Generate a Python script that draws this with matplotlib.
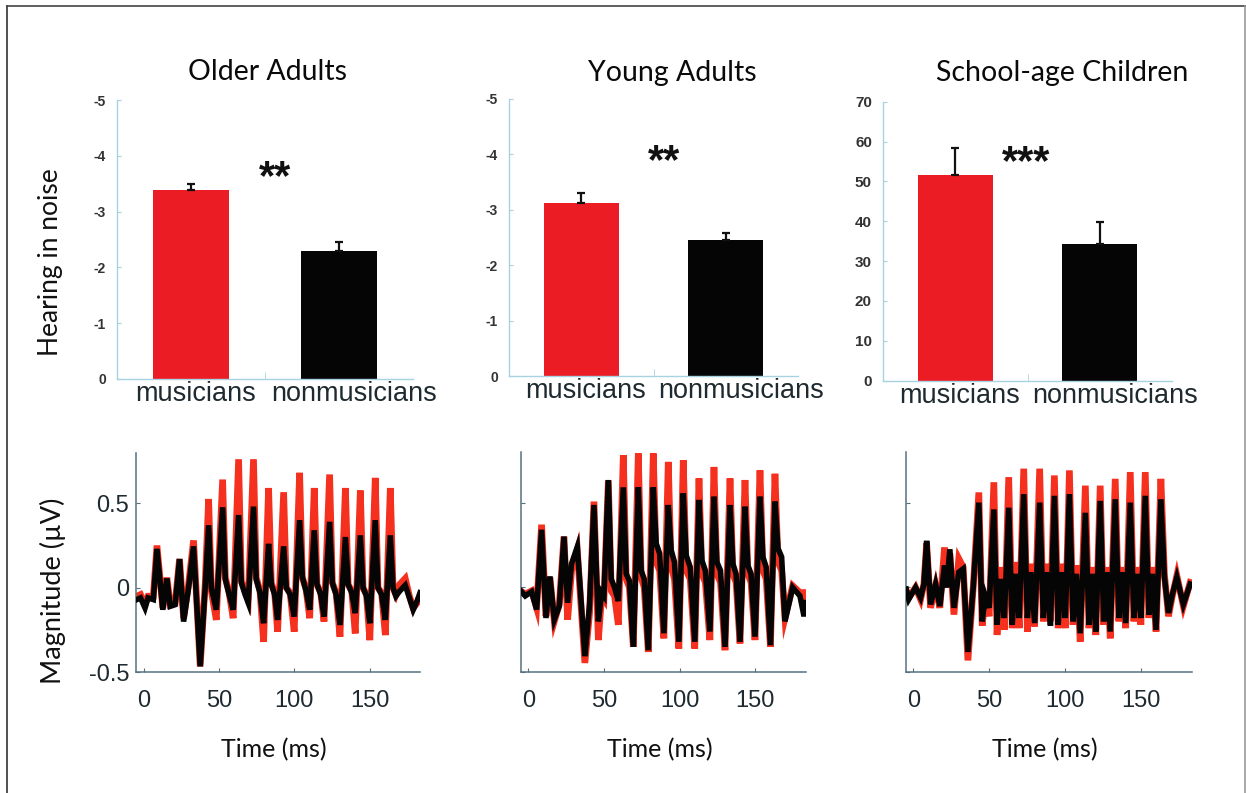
import matplotlib
matplotlib.use("Agg")
import matplotlib.pyplot as plt
from matplotlib.lines import Line2D

plt.rcParams['axes.unicode_minus'] = False

# ---- bar data (hearing in noise) ----
groups = ["musicians", "nonmusicians"]
older_vals = [-3.39, -2.29]
older_err = [0.10, 0.16]
young_vals = [-3.13, -2.46]
young_err = [0.18, 0.13]
child_vals = [51.6, 34.3]
child_err = [6.9, 5.6]

# ---- waveform data (ms, µV); red = musicians, black = nonmusicians ----
t_older = [-4.5, -2, 1, 3, 6.5, 8.9, 12.8, 15.5, 17.7, 21, 23.9, 26.6, 29.9, 33.2, 37.6, 40.9,
           43.2, 45.0, 48.3,
           52.5, 54.3, 56.8, 59.5,
           63.1, 64.9, 67.4, 69.5,
           73.0, 74.8, 77.3, 79.7,
           83.0, 84.8, 87.0, 89.0,
           93.0, 94.8, 97.3, 100.0,
           103.6, 105.4, 107.9, 110.3,
           113.3, 115.1, 117.6, 119.8,
           123.5, 125.3, 127.8, 130.4,
           134.0, 135.8, 138.2, 140.5,
           143.9, 145.7, 148.0, 150.2,
           153.8, 155.6, 158.0, 160.5,
           163.8, 165.6, 167.5, 170, 173.7, 176.5, 179, 181.5, 183.5]
nonmus_older = [-0.07, -0.06, -0.12, -0.06, -0.07, 0.23, -0.13, 0.055, -0.11, -0.10, 0.17, -0.20,
                0.0, 0.245, -0.465, 0.0,
                0.37, 0.0, -0.13,
                0.476, 0.05, -0.04, -0.13,
                0.43, 0.03, -0.04, -0.09,
                0.48, 0.05, -0.03, -0.21,
                0.26, 0.02, -0.04, -0.19,
                0.245, 0.0, -0.04, -0.17,
                0.40, 0.065, -0.02, -0.13,
                0.34, 0.02, -0.04, -0.17,
                0.39, 0.03, -0.04, -0.22,
                0.30, 0.02, -0.03, -0.15,
                0.31, 0.0, -0.05, -0.21,
                0.40, 0.0, -0.04, -0.19,
                0.31, 0.0, -0.05, -0.02, 0.015, -0.06, -0.13, -0.08, -0.03]
mus_older = [-0.05, -0.04, -0.10, -0.05, -0.05, 0.25, -0.12, 0.06, -0.10, -0.09, 0.17, -0.18,
             0.02, 0.28, -0.465, 0.02,
             0.525, -0.02, -0.19,
             0.64, 0.06, -0.03, -0.18,
             0.76, 0.04, -0.02, -0.07,
             0.76, 0.06, -0.02, -0.32,
             0.59, 0.03, -0.03, -0.26,
             0.565, 0.0, -0.03, -0.26,
             0.68, 0.06, -0.01, -0.18,
             0.59, 0.02, -0.03, -0.20,
             0.67, 0.03, -0.03, -0.29,
             0.59, 0.02, -0.02, -0.27,
             0.575, 0.0, -0.04, -0.31,
             0.65, 0.0, -0.03, -0.28,
             0.59, 0.0, -0.04, 0.02, 0.055, -0.05, -0.12, -0.09, -0.05]

t_young = [-5, -2, 2.2, 5.5, 8.8, 11.7, 14.3, 17.2, 20.5, 23.6, 26, 28.6, 32.4, 37.4, 40.5,
           43.4, 46.3, 48.5, 50,
           52.9, 54.8, 57, 59.5,
           62.8, 64.7, 66.8, 69.4,
           72.7, 74.6, 76.6, 79.3,
           82.6, 84.5, 86.8, 89.6,
           92.5, 94.4, 96.6, 99.5,
           102.4, 104.3, 107, 110,
           112.8, 114.7, 117, 120,
           122.7, 124.6, 127, 130,
           133.3, 135.2, 137.3, 139.9,
           143.2, 145.1, 147.2, 149.8,
           153.1, 155, 157.2, 160,
           163, 165, 167.4, 169.6, 174.7, 179.5, 182.2, 183.5]
nonmus_young = [-0.02, -0.05, -0.025, -0.13, 0.34, -0.18, 0.065, -0.19, -0.11, 0.30, -0.09, 0.14,
                0.24, -0.405, -0.10, 0.486, -0.20, -0.03, -0.05,
                0.633, 0.05, 0.0, -0.08,
                0.59, 0.08, 0.04, -0.35,
                0.59, 0.10, 0.05, -0.37,
                0.59, 0.26, 0.20, -0.27,
                0.486, 0.22, 0.15, -0.32,
                0.555, 0.19, 0.12, -0.32,
                0.516, 0.16, 0.10, -0.26,
                0.535, 0.15, 0.10, -0.35,
                0.486, 0.14, 0.08, -0.32,
                0.476, 0.13, 0.08, -0.29,
                0.535, 0.18, 0.12, -0.34,
                0.506, 0.23, 0.18, -0.20, 0.0, -0.05, -0.17, -0.09]
mus_young = [-0.02, -0.04, -0.02, -0.12, 0.37, -0.17, 0.06, -0.20, -0.10, 0.30, -0.19, 0.10,
             0.22, -0.445, -0.15, 0.506, -0.31, -0.05, -0.07,
             0.63, -0.02, -0.05, -0.22,
             0.78, 0.05, 0.0, -0.35,
             0.79, 0.06, 0.0, -0.38,
             0.79, 0.15, 0.10, -0.30,
             0.74, 0.12, 0.05, -0.36,
             0.75, 0.10, 0.05, -0.36,
             0.643, 0.08, 0.03, -0.31,
             0.71, 0.08, 0.03, -0.37,
             0.643, 0.08, 0.03, -0.33,
             0.633, 0.08, 0.03, -0.31,
             0.69, 0.10, 0.05, -0.35,
             0.67, 0.15, 0.10, -0.18, 0.01, -0.03, -0.03, -0.08]

t_child = [-4.6, -3, 1.5, 4.8, 7, 8.8, 11.4, 14.7, 17.5, 20.6, 22, 24.1, 26.8, 30, 32.9, 36, 39.5,
           43.2, 45.4, 47.5, 50, 53.1, 55.2, 57.5, 60, 62.9, 65.2, 67.5, 69.8, 72.8, 75.2, 77.5,
           80, 83.3, 85.7, 88, 90.4, 93, 95.5, 97.8, 100.2, 102.9, 105.3, 107.5, 110, 113.4,
           115.8, 118, 120.3, 123.2, 125.5, 127.5, 129.8, 133.1, 135.5, 137.5, 140, 143, 145.4,
           147.5, 150, 152.9, 155.3, 157.5, 160, 163.2, 165.5, 168.2, 170.5, 173.7, 178, 182.5]
mus_child = [-0.02, -0.06, 0.0, -0.07, 0.02, 0.26, -0.12, 0.01, -0.12, 0.235, 0.02, 0.20, -0.16,
             0.17, 0.12, -0.43, 0.0, 0.56, -0.225, -0.05, -0.17, 0.62, -0.28, 0.12, -0.25, 0.65,
             -0.24, 0.15, -0.24, 0.70, -0.26, 0.14, -0.23, 0.70, -0.20, 0.14, -0.20, 0.66, -0.24,
             0.14, -0.24, 0.69, -0.22, 0.13, -0.32, 0.60, -0.24, 0.12, -0.28, 0.60, -0.22, 0.12,
             -0.30, 0.64, -0.20, 0.12, -0.24, 0.68, -0.20, 0.12, -0.22, 0.68, -0.18, 0.12, -0.26,
             0.64, 0.08, -0.17, -0.06, 0.07, -0.11, 0.03]
nonmus_child = [-0.01, -0.07, 0.0, -0.06, 0.02, 0.275, -0.10, 0.02, -0.11, 0.13, 0.0, 0.225, -0.12,
                0.09, 0.11, -0.38, 0.0, 0.50, -0.20, -0.05, -0.12, 0.46, -0.22, 0.05, -0.18, 0.47,
                -0.22, 0.08, -0.18, 0.55, -0.18, 0.09, -0.21, 0.50, -0.18, 0.09, -0.225, 0.54,
                -0.22, 0.09, -0.18, 0.55, -0.20, 0.08, -0.27, 0.44, -0.22, 0.08, -0.26, 0.51,
                -0.20, 0.09, -0.26, 0.52, -0.18, 0.09, -0.21, 0.50, -0.18, 0.08, -0.18, 0.54,
                -0.16, 0.08, -0.25, 0.52, 0.06, -0.15, -0.05, 0.06, -0.10, 0.02]

titles = ["Older Adults", "Young Adults", "School-age Children"]
stars = ["**", "**", "***"]

W, H = 1246, 793
RED = "#ec1c24"
BAR_AXIS = "#a8d2e2"
WAVE_AXIS = "#56717e"
TXT = "#1e2a30"


def rect(x0, y0, x1, y1):
    # pixel box -> figure fraction
    return [x0 / W, 1 - y1 / H, (x1 - x0) / W, (y1 - y0) / H]


fig = plt.figure(figsize=(W / 100, H / 100), dpi=100)

# ---- top row: bar charts ----
bar_boxes = [(117, 100, 413, 379), (509, 99, 798, 376), (883, 101.7, 1172, 380.7)]
bar_data = [(older_vals, older_err), (young_vals, young_err), (child_vals, child_err)]
star_pos = [(0.57, -3.40), (0.576, -3.67), (0.49, 51.8)]

for i, (box, (vals, errs)) in enumerate(zip(bar_boxes, bar_data)):
    ax = fig.add_axes(rect(*box))
    x = [0, 1]
    # error bar goes away from zero
    lo = [e if v < 0 else 0 for v, e in zip(vals, errs)]
    hi = [e if v > 0 else 0 for v, e in zip(vals, errs)]
    ax.bar(x, vals, width=0.52, color=[RED, "#050505"], zorder=2)
    ax.errorbar(x, vals, yerr=[lo, hi], fmt="none", ecolor="#111111", elinewidth=1.6,
                capsize=3, capthick=1.6, zorder=3)
    ax.set_xlim(-0.5, 1.5)
    if i < 2:
        ax.set_ylim(0, -5)
        ax.set_yticks([0, -1, -2, -3, -4, -5])
        ysz = 10
    else:
        ax.set_ylim(0, 70)
        ax.set_yticks(range(0, 71, 10))
        ysz = 11
    # category labels sit a little right of the bar centres in the original
    ax.set_xticks([0.03, 1.105])
    ax.set_xticklabels(groups, fontsize=19.5, family="Liberation Sans", color=TXT)
    ax.set_xticks([0.5], minor=True)
    ax.tick_params(axis="x", which="major", length=0, pad=1.5)
    ax.tick_params(axis="x", which="minor", direction="in", length=5, color=BAR_AXIS)
    ax.tick_params(axis="y", direction="in", length=3, color=BAR_AXIS, pad=8)
    for lab in ax.get_yticklabels():
        lab.set_fontsize(ysz)
        lab.set_fontweight("bold")
        lab.set_family("Liberation Sans")
        lab.set_color("#333333")
    for s in ["top", "right"]:
        ax.spines[s].set_visible(False)
    for s in ["left", "bottom"]:
        ax.spines[s].set_color(BAR_AXIS)
        ax.spines[s].set_linewidth(1.0)
    ax.text(star_pos[i][0], star_pos[i][1], stars[i], ha="center", va="baseline",
            fontsize=30, fontweight="bold", family="Liberation Sans", color="#111111")

title_x = [267.5, 672.5, 1062.3]
for tx, title in zip(title_x, titles):
    fig.text(tx / W, 1 - 80.5 / H, title, ha="center", va="baseline",
             fontsize=20.5, family="Lato", color="#0a0a0a")

fig.text(58 / W, 1 - 262.5 / H, "Hearing in noise", rotation=90, rotation_mode="anchor",
         ha="center", va="baseline", fontsize=19, family="Lato", color="#111111")

# ---- bottom row: waveforms ----
wave_boxes = [(136, 452.5, 420, 672.3), (520.7, 451.7, 806, 672.3), (905.7, 451.7, 1191.7, 672.3)]
waves = [(t_older, mus_older, nonmus_older),
         (t_young, mus_young, nonmus_young),
         (t_child, mus_child, nonmus_child)]

for i, (box, (t, mus, nonmus)) in enumerate(zip(wave_boxes, waves)):
    ax = fig.add_axes(rect(*box))
    ax.plot(t, mus, color="#f5301f", lw=4.8, solid_joinstyle="miter", zorder=2)
    ax.plot(t, nonmus, color="#050505", lw=4.0, solid_joinstyle="miter", zorder=3)
    ax.set_xlim(-5, 183.5)
    ax.set_ylim(-0.5, 0.8)
    ax.set_xticks([0, 50, 100, 150])
    ax.set_yticks([-0.5, 0, 0.5])
    ax.tick_params(axis="x", direction="in", length=3, color=WAVE_AXIS, pad=12.5,
                   labelsize=17, labelcolor=TXT)
    ax.tick_params(axis="y", direction="in", length=3, color=WAVE_AXIS, pad=5,
                   labelsize=17, labelcolor=TXT)
    for lab in ax.get_xticklabels() + ax.get_yticklabels():
        lab.set_family("Liberation Sans")
    if i > 0:
        ax.set_yticklabels([])
    else:
        ax.set_yticklabels(["-0.5", "0", "0.5"])
    for s in ["top", "right"]:
        ax.spines[s].set_visible(False)
    for s in ["left", "bottom"]:
        ax.spines[s].set_color(WAVE_AXIS)
        ax.spines[s].set_linewidth(1.1)
    cx = (box[0] + box[2]) / 2
    fig.text((cx - 4) / W, 1 - 757 / H, "Time (ms)", ha="center", va="baseline",
             fontsize=18, family="Lato", color="#111111")

fig.text(61 / W, 1 - 591 / H, "Magnitude (µV)", rotation=90, rotation_mode="anchor",
         ha="center", va="baseline", fontsize=19.5, family="Lato", color="#111111")

# frame around the figure
fig.add_artist(Line2D([7.3 / W, 7.3 / W], [0, 1 - 5.5 / H], transform=fig.transFigure,
                      color="#333333", lw=1.2))
fig.add_artist(Line2D([7.3 / W, 1], [1 - 5.5 / H, 1 - 5.5 / H], transform=fig.transFigure,
                      color="#444444", lw=1.2))
fig.add_artist(Line2D([1245 / W, 1245 / W], [0, 1 - 5.5 / H], transform=fig.transFigure,
                      color="#999999", lw=1.2))

fig.savefig("out.png", dpi=100)
